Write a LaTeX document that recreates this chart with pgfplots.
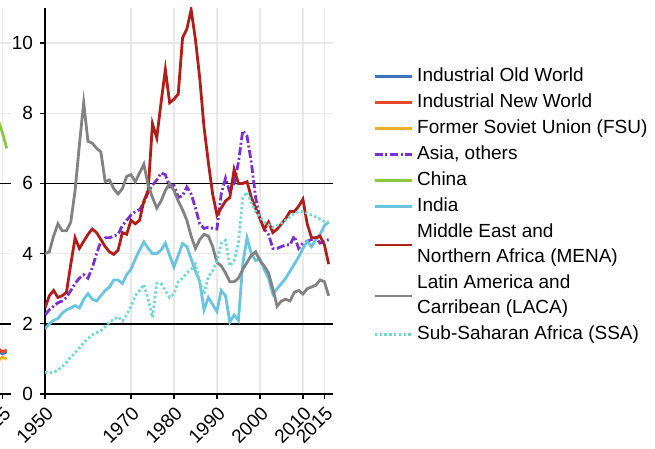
\documentclass[border=0pt]{standalone}
\usepackage{fontspec}
\setmainfont{Liberation Sans}
\usepackage{pgfplots}
\pgfplotsset{compat=1.18}
\usepackage{pgfplotstable}

\definecolor{oldw}{HTML}{3F74BF}
\definecolor{neww}{HTML}{E8482A}
\definecolor{fsu}{HTML}{EDB128}
\definecolor{asia}{HTML}{7A2FD1}
\definecolor{china}{HTML}{8DC63F}
\definecolor{india}{HTML}{6BC4DE}
\definecolor{mena}{HTML}{AE1F1C}
\definecolor{laca}{HTML}{828282}
\definecolor{ssa}{HTML}{76D7CB}

% same height for every legend line
\newcommand\lstrut{\rule[-3.75bp]{0pt}{12.5bp}}

% main panel, one row per year
\pgfplotstableread{
year asia india mena laca ssa
1950 2.25 1.85 2.45 4.00 0.62
1951 2.40 2.00 2.80 4.05 0.60
1952 2.50 2.10 2.95 4.50 0.62
1953 2.60 2.15 2.75 4.85 0.68
1954 2.65 2.30 2.80 4.65 0.78
1955 2.75 2.40 2.90 4.65 0.90
1956 2.95 2.45 3.70 4.90 1.05
1957 3.15 2.52 4.45 5.80 1.18
1958 3.30 2.45 4.15 7.10 1.32
1959 3.40 2.70 4.35 8.30 1.45
1960 3.30 2.86 4.55 7.20 1.58
1961 3.60 2.70 4.70 7.15 1.68
1962 4.00 2.65 4.60 7.00 1.75
1963 4.35 2.80 4.40 6.90 1.80
1964 4.45 2.95 4.20 6.05 1.92
1965 4.45 3.05 4.05 6.10 2.06
1966 4.50 3.25 3.98 5.85 2.12
1967 4.55 3.25 4.10 5.70 2.20
1968 4.80 3.15 4.60 5.85 2.08
1969 4.95 3.40 4.55 6.20 2.25
1970 5.10 3.55 4.95 6.25 2.50
1971 5.20 3.85 4.85 6.05 2.80
1972 5.25 4.10 4.95 6.30 2.95
1973 5.45 4.33 5.50 6.55 3.12
1974 5.75 4.15 5.80 5.95 2.70
1975 5.95 4.00 7.70 5.60 2.18
1976 6.10 4.00 7.30 5.30 3.15
1977 6.30 4.10 8.30 5.50 3.15
1978 6.25 4.30 9.25 5.80 2.95
1979 5.90 3.95 8.30 6.00 2.75
1980 5.95 3.62 8.40 5.80 2.85
1981 5.60 3.95 8.55 5.50 3.20
1982 5.65 4.29 10.15 5.25 3.30
1983 5.90 4.20 10.40 4.95 3.45
1984 5.70 3.85 10.95 4.50 3.55
1985 5.30 3.50 10.10 4.15 3.70
1986 4.85 3.20 9.00 4.40 3.20
1987 4.72 2.40 7.60 4.55 2.85
1988 4.75 2.75 6.60 4.50 3.35
1989 4.72 2.55 5.70 4.20 3.50
1990 4.70 2.35 5.10 3.75 3.80
1991 5.70 2.95 5.30 3.65 4.30
1992 6.15 2.80 5.50 3.45 4.38
1993 5.75 2.05 5.60 3.20 3.65
1994 6.00 2.25 6.40 3.20 3.80
1995 6.60 2.10 6.00 3.30 4.30
1996 7.50 3.70 6.00 3.55 5.60
1997 7.35 4.45 6.05 3.75 5.75
1998 6.60 4.00 5.60 3.95 5.45
1999 5.60 3.80 5.30 4.05 5.20
2000 5.00 3.85 5.00 3.80 5.05
2001 4.70 3.55 4.70 3.65 4.90
2002 4.55 3.30 4.90 3.45 4.82
2003 4.15 2.85 4.60 3.00 4.75
2004 4.15 3.00 4.70 2.50 4.80
2005 4.20 3.15 4.85 2.65 4.88
2006 4.25 3.30 5.00 2.70 4.95
2007 4.25 3.50 5.20 2.65 5.05
2008 4.50 3.70 5.20 2.90 5.15
2009 4.15 3.90 5.35 2.95 5.20
2010 4.30 4.15 5.55 2.85 5.20
2011 4.35 4.35 4.85 3.00 5.15
2012 4.40 4.20 4.45 3.05 5.10
2013 4.45 4.40 4.45 3.10 5.05
2014 4.30 4.55 4.50 3.25 4.98
2015 4.35 4.80 4.25 3.20 4.92
2016 4.40 4.90 3.70 2.80 4.90
}\regions

% right end of the neighbouring panel (only its last years are in view)
\pgfplotstableread{
year oldw neww fsu china
2011 1.15 1.20 1.00 8.10
2012 1.20 1.25 1.00 8.05
2013 1.10 1.20 1.05 7.95
2014 1.20 1.30 0.95 7.80
2015 1.15 1.20 1.05 7.45
2016 1.20 1.25 1.00 7.00
}\leftpanel

\pgfplotsset{
  panel/.style={
    scale only axis, width=144bp, height=193bp,
    xmin=1950, xmax=2017, ymin=0, ymax=11,
    axis x line*=bottom, axis y line*=left,
    axis line style={black, line width=0.8bp},
    xtick={1950,1970,1980,1990,2000,2010,2015},
    ytick={0,4,8,10},
    extra y ticks={2,6},
    extra y tick style={major grid style={black, line width=0.7bp}},
    tick align=outside, major tick length=2.5bp,
    tick style={black, line width=0.6bp},
    grid=major, major grid style={black!9, line width=0.6bp},
    tick label style={font=\fontsize{9.5bp}{11bp}\selectfont},
    /pgf/number format/assume math mode=true,
    /pgf/number format/1000 sep={},
    xticklabel style={rotate=45, anchor=north east, inner sep=2bp},
    every axis plot/.append style={line width=1.4bp, no marks},
  },
  asiastyle/.style={asia, dash pattern=on 4bp off 1.3bp on 1bp off 1.3bp},
  ssastyle/.style={ssa, dash pattern=on 1.2bp off 1.2bp},
}

\begin{document}
\begin{tikzpicture}
\begin{axis}[panel, at={(-161bp,0bp)},
    xtick={2015}, yticklabels={}, extra y tick labels={}]
\addplot[oldw] table[x=year, y=oldw] {\leftpanel};
\addplot[fsu] table[x=year, y=fsu] {\leftpanel};
\addplot[neww] table[x=year, y=neww] {\leftpanel};
\addplot[china] table[x=year, y=china] {\leftpanel};
\end{axis}

\begin{axis}[panel, at={(0bp,0bp)},
    legend style={at={(1.139,0.856)}, anchor=north west, draw=none, fill=none,
      inner sep=0pt, font=\fontsize{9.5bp}{12.5bp}\selectfont,
      row sep=0.5bp, column sep=2bp,
      nodes={inner sep=0pt, align=left, text depth=3.75bp}},
    legend cell align=left,
    legend image code/.code={\draw[#1, line width=1.4bp] (0bp,0bp) -- (18.5bp,0bp);},
  ]
\addlegendimage{oldw}
\addlegendentry{\lstrut Industrial Old World}
\addlegendimage{neww}
\addlegendentry{\lstrut Industrial New World}
\addlegendimage{fsu}
\addlegendentry{\lstrut Former Soviet Union (FSU)}
\addplot[asiastyle] table[x=year, y=asia] {\regions};
\addlegendentry{\lstrut Asia, others}
\addlegendimage{china}
\addlegendentry{\lstrut China}
\addplot[india] table[x=year, y=india] {\regions};
\addlegendentry{\lstrut India}
\addplot[mena] table[x=year, y=mena] {\regions};
\addlegendentry{\lstrut Middle East and\\\lstrut Northern Africa (MENA)}
\addplot[laca] table[x=year, y=laca] {\regions};
\addlegendentry{\lstrut Latin America and\\\lstrut Carribean (LACA)}
\addplot[ssastyle] table[x=year, y=ssa] {\regions};
\addlegendentry{\lstrut Sub-Saharan Africa (SSA)}
\end{axis}
\pgfresetboundingbox
\path[use as bounding box] (-22.5bp,-27.5bp) rectangle (305bp,197bp);
\end{tikzpicture}
\end{document}
